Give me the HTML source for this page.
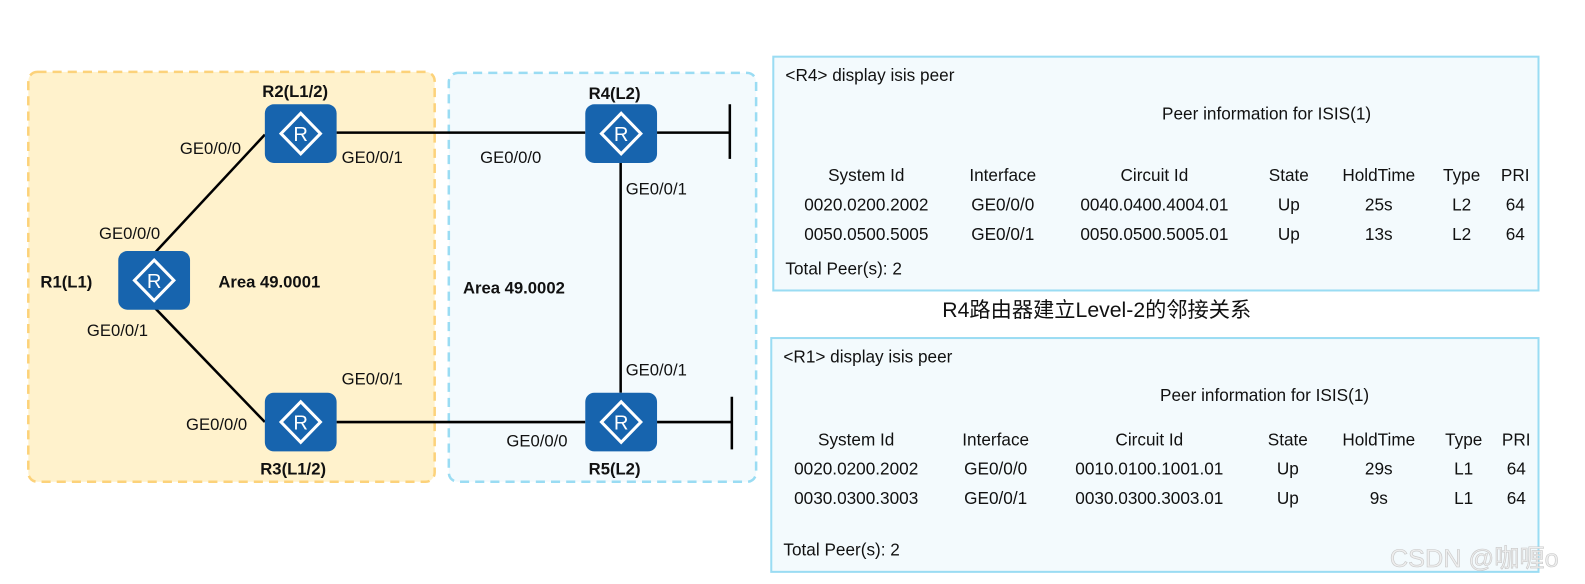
<!DOCTYPE html>
<html><head><meta charset="utf-8"><style>
html,body{margin:0;padding:0;background:#fff;}
svg{display:block}
text{font-family:"Liberation Sans","Noto Sans CJK SC",sans-serif;fill:#111}
.b{font-weight:bold;font-size:16.5px}
.g{font-size:16.5px}
.t{font-size:17px}
</style></head><body>
<svg width="1585" height="584" viewBox="0 0 1568 577" preserveAspectRatio="none" xmlns="http://www.w3.org/2000/svg">
<defs>
<g id="rt">
<rect x="0" y="0" width="71" height="58" rx="9" fill="#1764ae"/>
<polygon points="35.5,9 55,29 35.5,49 16,29" fill="none" stroke="#fff" stroke-width="3"/>
<text x="35.5" y="36.5" text-anchor="middle" style="font-size:20px;fill:#fff">R</text>
</g>
</defs>
<rect x="28" y="71" width="402" height="405" rx="9" fill="#fff2cc" stroke="#fcd27a" stroke-width="2.5" stroke-dasharray="9,6"/>
<rect x="444" y="72" width="304" height="404" rx="9" fill="#f3fafd" stroke="#9adcf3" stroke-width="2.5" stroke-dasharray="9,6"/>
<g stroke="#000" stroke-width="2.5" fill="none">
<line x1="262" y1="133" x2="153" y2="250"/>
<line x1="153" y1="304" x2="262" y2="417"/>
<line x1="333" y1="131" x2="579" y2="131"/>
<line x1="650" y1="131" x2="722" y2="131"/>
<line x1="722" y1="103" x2="722" y2="157"/>
<line x1="614" y1="161" x2="614" y2="388"/>
<line x1="333" y1="417" x2="579" y2="417"/>
<line x1="650" y1="417" x2="724" y2="417"/>
<line x1="724" y1="392" x2="724" y2="444"/>
</g>
<use href="#rt" x="262" y="103"/>
<use href="#rt" x="117" y="248"/>
<use href="#rt" x="262" y="388"/>
<use href="#rt" x="579" y="103"/>
<use href="#rt" x="579" y="388"/>
<text class="b" x="292" y="96" text-anchor="middle">R2(L1/2)</text>
<text class="b" x="40" y="284">R1(L1)</text>
<text class="b" x="290" y="469" text-anchor="middle">R3(L1/2)</text>
<text class="b" x="608" y="98" text-anchor="middle">R4(L2)</text>
<text class="b" x="608" y="469" text-anchor="middle">R5(L2)</text>
<text class="b" x="216" y="284">Area 49.0001</text>
<text class="b" x="458" y="290">Area 49.0002</text>
<text class="g" x="178" y="152">GE0/0/0</text>
<text class="g" x="338" y="161">GE0/0/1</text>
<text class="g" x="98" y="236">GE0/0/0</text>
<text class="g" x="86" y="332">GE0/0/1</text>
<text class="g" x="338" y="380">GE0/0/1</text>
<text class="g" x="184" y="425">GE0/0/0</text>
<text class="g" x="475" y="161">GE0/0/0</text>
<text class="g" x="619" y="192">GE0/0/1</text>
<text class="g" x="619" y="371">GE0/0/1</text>
<text class="g" x="501" y="441">GE0/0/0</text>
<rect x="765" y="56" width="757" height="231" fill="#f3fafd" stroke="#9adcf3" stroke-width="2"/>
<text class="t" x="777" y="80">&lt;R4&gt; display isis peer</text>
<text class="t" x="1253" y="118" text-anchor="middle">Peer information for ISIS(1)</text>
<text class="t" x="857" y="179" text-anchor="middle">System Id</text>
<text class="t" x="992" y="179" text-anchor="middle">Interface</text>
<text class="t" x="1142" y="179" text-anchor="middle">Circuit Id</text>
<text class="t" x="1275" y="179" text-anchor="middle">State</text>
<text class="t" x="1364" y="179" text-anchor="middle">HoldTime</text>
<text class="t" x="1446" y="179" text-anchor="middle">Type</text>
<text class="t" x="1499" y="179" text-anchor="middle">PRI</text>
<text class="t" x="857" y="208" text-anchor="middle">0020.0200.2002</text>
<text class="t" x="992" y="208" text-anchor="middle">GE0/0/0</text>
<text class="t" x="1142" y="208" text-anchor="middle">0040.0400.4004.01</text>
<text class="t" x="1275" y="208" text-anchor="middle">Up</text>
<text class="t" x="1364" y="208" text-anchor="middle">25s</text>
<text class="t" x="1446" y="208" text-anchor="middle">L2</text>
<text class="t" x="1499" y="208" text-anchor="middle">64</text>
<text class="t" x="857" y="237" text-anchor="middle">0050.0500.5005</text>
<text class="t" x="992" y="237" text-anchor="middle">GE0/0/1</text>
<text class="t" x="1142" y="237" text-anchor="middle">0050.0500.5005.01</text>
<text class="t" x="1275" y="237" text-anchor="middle">Up</text>
<text class="t" x="1364" y="237" text-anchor="middle">13s</text>
<text class="t" x="1446" y="237" text-anchor="middle">L2</text>
<text class="t" x="1499" y="237" text-anchor="middle">64</text>
<text class="t" x="777" y="271">Total Peer(s): 2</text>
<text x="1085" y="313" text-anchor="middle" style="font-size:21px">R4路由器建立Level-2的邻接关系</text>
<rect x="763" y="334" width="759" height="231" fill="#f3fafd" stroke="#9adcf3" stroke-width="2"/>
<text class="t" x="775" y="358">&lt;R1&gt; display isis peer</text>
<text class="t" x="1251" y="396" text-anchor="middle">Peer information for ISIS(1)</text>
<text class="t" x="847" y="440" text-anchor="middle">System Id</text>
<text class="t" x="985" y="440" text-anchor="middle">Interface</text>
<text class="t" x="1137" y="440" text-anchor="middle">Circuit Id</text>
<text class="t" x="1274" y="440" text-anchor="middle">State</text>
<text class="t" x="1364" y="440" text-anchor="middle">HoldTime</text>
<text class="t" x="1448" y="440" text-anchor="middle">Type</text>
<text class="t" x="1500" y="440" text-anchor="middle">PRI</text>
<text class="t" x="847" y="469" text-anchor="middle">0020.0200.2002</text>
<text class="t" x="985" y="469" text-anchor="middle">GE0/0/0</text>
<text class="t" x="1137" y="469" text-anchor="middle">0010.0100.1001.01</text>
<text class="t" x="1274" y="469" text-anchor="middle">Up</text>
<text class="t" x="1364" y="469" text-anchor="middle">29s</text>
<text class="t" x="1448" y="469" text-anchor="middle">L1</text>
<text class="t" x="1500" y="469" text-anchor="middle">64</text>
<text class="t" x="847" y="498" text-anchor="middle">0030.0300.3003</text>
<text class="t" x="985" y="498" text-anchor="middle">GE0/0/1</text>
<text class="t" x="1137" y="498" text-anchor="middle">0030.0300.3003.01</text>
<text class="t" x="1274" y="498" text-anchor="middle">Up</text>
<text class="t" x="1364" y="498" text-anchor="middle">9s</text>
<text class="t" x="1448" y="498" text-anchor="middle">L1</text>
<text class="t" x="1500" y="498" text-anchor="middle">64</text>
<text class="t" x="775" y="549">Total Peer(s): 2</text>
<text x="1375" y="560" style="font-size:25px;fill:#eeeeee;stroke:#c8c8c8;stroke-width:0.6">CSDN @咖喱o</text>
</svg>
</body></html>
